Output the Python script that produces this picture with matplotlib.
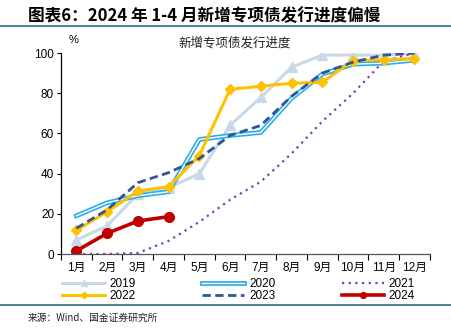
import matplotlib
matplotlib.use("Agg")
import matplotlib.pyplot as plt
import matplotlib.patheffects as pe
from matplotlib.lines import Line2D

plt.rcParams['font.family'] = ['Liberation Sans', 'Noto Sans CJK SC', 'DejaVu Sans']

months = ["1月", "2月", "3月", "4月", "5月", "6月", "7月", "8月", "9月", "10月", "11月", "12月"]
y2019 = [7, 14, 30, 33, 40, 64, 78, 93, 99, 99, 99, 100]
y2020 = [19, 25.5, 29, 31, 57, 59, 60.5, 77.5, 89.5, 94.5, 95, 96.5]
y2021 = [0, 0, 0.5, 6.5, 16, 27, 36, 50, 66, 80, 96, 100]
y2022 = [11.8, 21, 31.3, 33.5, 49, 82, 83.5, 85, 85.5, 96.3, 96.7, 97.3]
y2023 = [12.8, 22, 35.5, 40.5, 47.5, 59, 64, 78.5, 90, 95.5, 99, 100]
y2024 = [1.6, 10.3, 16.4, 18.6]
yticks = [0, 20, 40, 60, 80, 100]

fig = plt.figure(figsize=(4.52, 3.34), dpi=100)
ax = fig.add_axes([0.135, 0.2395, 0.816, 0.6015])
x = list(range(len(months)))

l19, = ax.plot(x, y2019, color="#c9d9ea", lw=2.2, marker="^", ms=6.5, label="2019")
l20, = ax.plot(x, y2020, color="white", lw=1.0, label="2020",
               path_effects=[pe.Stroke(linewidth=3.4, foreground="#29aee6"), pe.Normal()])
l21, = ax.plot(x, y2021, color="#7d3fb5", lw=1.6, ls=(0, (1, 2.0)), label="2021")
l22, = ax.plot(x, y2022, color="#ffc000", lw=2.2, marker="D", ms=5.5, label="2022")
l23, = ax.plot(x, y2023, color="#2f5597", lw=2.0, ls=(0, (3, 1.6)), label="2023")
l24, = ax.plot(x[:len(y2024)], y2024, color="#c00000", lw=2.6, marker="o", ms=7, label="2024")

ax.set_xlim(-0.5, 11.5)
ax.set_ylim(0, 100)
ax.set_yticks(yticks)
ax.tick_params(axis="y", labelsize=8.5, length=3, width=0.8, pad=2)
ax.set_xticks([i + 0.5 for i in range(-1, 12)])
ax.set_xticklabels([])
ax.set_xticks(x, minor=True)
ax.set_xticklabels(months, minor=True, fontsize=8.5)
ax.tick_params(axis="x", which="major", length=4, width=0.8, direction="out")
ax.tick_params(axis="x", which="minor", length=0, pad=6)
for s in ["top", "right"]:
    ax.spines[s].set_visible(False)
ax.spines["left"].set_linewidth(0.9)
ax.spines["bottom"].set_linewidth(0.9)
ax.spines["bottom"].set_color("#555555")

ax.text(0.02, 1.04, "%", transform=ax.transAxes, fontsize=8, ha="left", va="bottom")
ax.text(0.47, 1.02, "新增专项债发行进度", transform=ax.transAxes, fontsize=9,
        ha="center", va="bottom", family=["Noto Sans CJK SC"], color="#222222")

handles = [l19, l22, l20, l23, l21, l24]
leg = fig.legend(handles, [h.get_label() for h in handles], ncol=3,
                 loc="upper left", bbox_to_anchor=(0.125, 0.185), frameon=False,
                 fontsize=8.5, handlelength=3.6, handletextpad=0.4, markerscale=0.6,
                 columnspacing=5.6, labelspacing=0.0, borderpad=0)

fig.text(0.062, 0.953, "图表6：2024 年 1-4 月新增专项债发行进度偏慢", fontsize=12,
         fontweight="bold", family=["Noto Sans CJK SC"], ha="left", va="center", style="italic")
fig.add_artist(Line2D([0, 1], [0.922, 0.922], transform=fig.transFigure, color="#2e6b8c", lw=1.2))
fig.add_artist(Line2D([0, 1], [0.086, 0.086], transform=fig.transFigure, color="#2e6b8c", lw=1.2))
fig.text(0.062, 0.048, "来源：Wind、国金证券研究所", fontsize=7, family=["Noto Sans CJK SC"],
         ha="left", va="center", color="#222222")

fig.savefig("out.png", dpi=100)
